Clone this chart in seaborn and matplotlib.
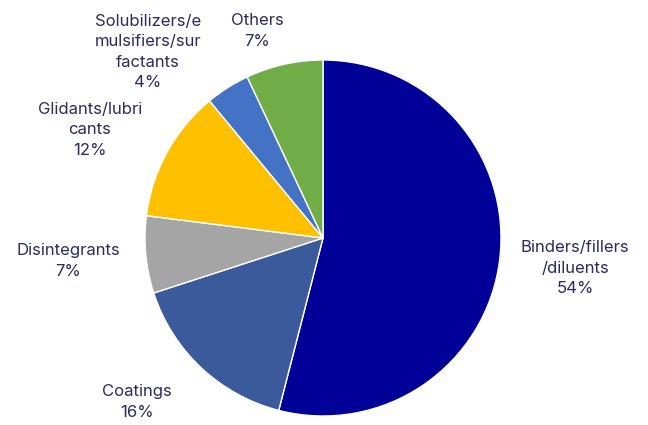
import matplotlib
matplotlib.use("Agg")
import matplotlib.pyplot as plt
import seaborn as sns

sns.set_theme(style="white")
plt.rcParams['font.family'] = ['Inter', 'DejaVu Sans']

categories = ["Binders/fillers\n/diluents", "Coatings", "Disintegrants",
              "Glidants/lubri\ncants", "Solubilizers/e\nmulsifiers/sur\nfactants", "Others"]
values = [54, 16, 7, 12, 4, 7]
colors = ["#000099", "#3A5A9B", "#A5A5A5", "#FFC000", "#4472C4", "#70AD47"]
label_pos = [(1.416, -0.169), (-1.045, -0.921), (-1.433, -0.129),
             (-1.309, 0.607), (-0.983, 1.045), (-0.371, 1.163)]

fig = plt.figure(figsize=(6.48, 4.25), dpi=100)
ax = fig.add_axes([0, 0, 1, 1])
ax.pie(values, colors=colors, startangle=90, counterclock=False,
       radius=1.0, wedgeprops=dict(edgecolor="white", linewidth=1))
for cat, v, (x, y) in zip(categories, values, label_pos):
    ax.text(x, y, f"{cat}\n{v}%", ha="center", va="center", fontsize=12,
            color="#2B2B5F", linespacing=1.45)
ax.set_xlim(-323/178, (648-323)/178)
ax.set_ylim((238-425)/178, 238/178)
ax.set_aspect("equal")
ax.axis("off")
fig.savefig("out.png", dpi=100)
